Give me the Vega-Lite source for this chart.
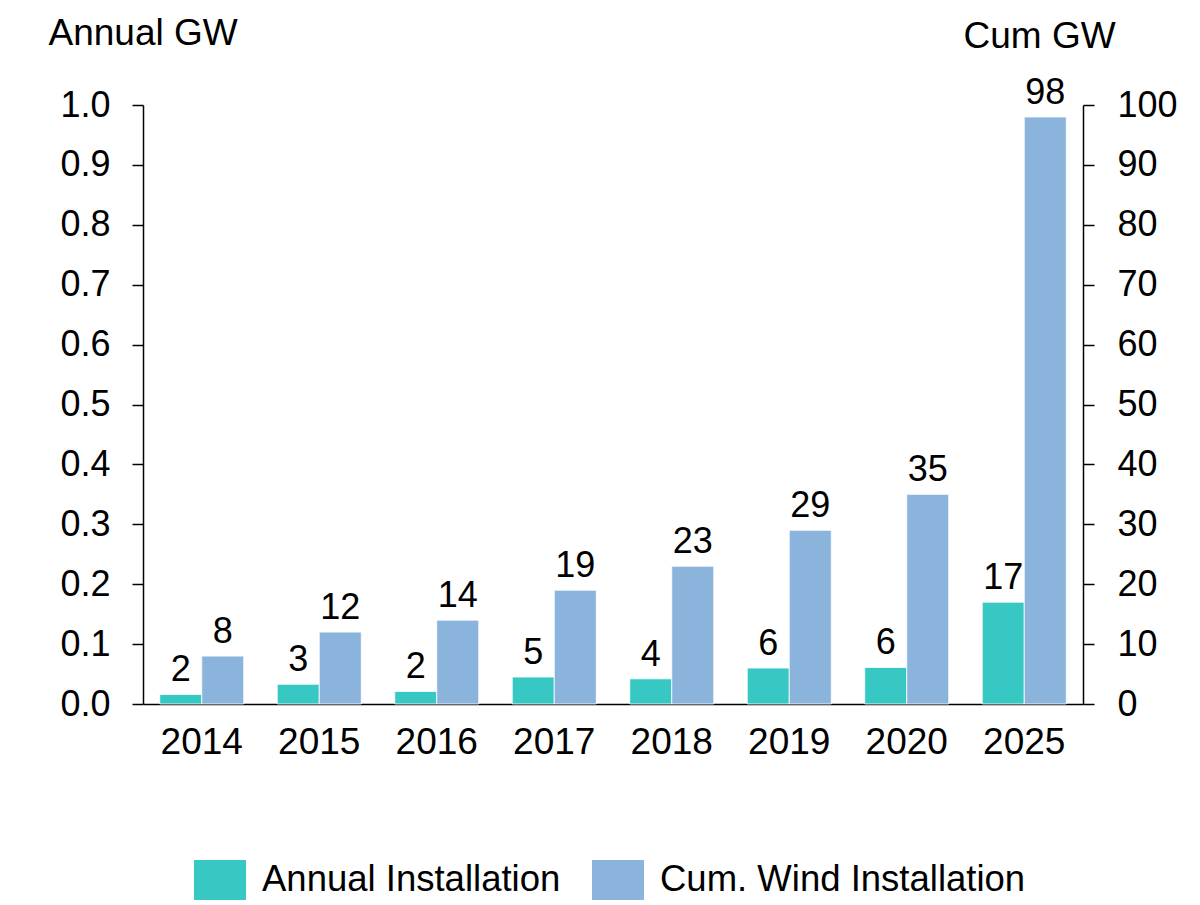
{
  "$schema": "https://vega.github.io/schema/vega-lite/v6.json",
  "autosize": "none",
  "width": 940,
  "height": 599,
  "padding": {"left": 143, "top": 105, "right": 117, "bottom": 201},
  "background": "white",
  "config": {
    "view": {"stroke": null},
    "font": "Liberation Sans",
    "axis": {"grid": false, "domainColor": "black", "tickColor": "black", "labelColor": "black", "titleColor": "black", "domainWidth": 1.5, "tickWidth": 1.5, "labelFont": "Liberation Sans", "titleFont": "Liberation Sans", "titleFontWeight": "normal"}
  },
  "data": {
    "values": [
      {"year": "2014", "series": "Annual Installation", "value": 1.6},
      {"year": "2014", "series": "Cum. Wind Installation", "value": 8},
      {"year": "2015", "series": "Annual Installation", "value": 3.3},
      {"year": "2015", "series": "Cum. Wind Installation", "value": 12},
      {"year": "2016", "series": "Annual Installation", "value": 2.1},
      {"year": "2016", "series": "Cum. Wind Installation", "value": 14},
      {"year": "2017", "series": "Annual Installation", "value": 4.5},
      {"year": "2017", "series": "Cum. Wind Installation", "value": 19},
      {"year": "2018", "series": "Annual Installation", "value": 4.2},
      {"year": "2018", "series": "Cum. Wind Installation", "value": 23},
      {"year": "2019", "series": "Annual Installation", "value": 6.0},
      {"year": "2019", "series": "Cum. Wind Installation", "value": 29},
      {"year": "2020", "series": "Annual Installation", "value": 6.1},
      {"year": "2020", "series": "Cum. Wind Installation", "value": 35},
      {"year": "2025", "series": "Annual Installation", "value": 17.0},
      {"year": "2025", "series": "Cum. Wind Installation", "value": 98}
    ]
  },
  "encoding": {
    "x": {
      "field": "year", "type": "nominal", "sort": null,
      "scale": {"paddingInner": 0.285, "paddingOuter": 0.1425},
      "axis": {"title": null, "labelAngle": 0, "ticks": false, "labelPadding": 20, "labelFontSize": 37, "domainWidth": 1.5}
    }
  },
  "layer": [
    {
      "encoding": {
        "xOffset": {"field": "series", "type": "nominal", "sort": null, "scale": {"paddingInner": 0, "paddingOuter": 0}},
        "y": {
          "field": "value", "type": "quantitative",
          "scale": {"domain": [0, 100], "nice": false, "zero": true},
          "axis": {
            "orient": "right", "title": "Cum GW", "values": [0, 10, 20, 30, 40, 50, 60, 70, 80, 90, 100],
            "format": "d", "tickSize": 11, "labelPadding": 23, "labelFontSize": 36,
            "titleAngle": 0, "titleAlign": "left", "titleBaseline": "alphabetic", "titleX": -120, "titleY": -58, "titleFontSize": 37
          }
        }
      },
      "layer": [
        {
          "mark": {"type": "bar", "stroke": "white", "strokeWidth": 1, "strokeOpacity": 0.8},
          "encoding": {
            "color": {
              "field": "series", "type": "nominal", "sort": null,
              "scale": {"domain": ["Annual Installation", "Cum. Wind Installation"], "range": ["#38C8C4", "#8AB4DC"]},
              "legend": {
                "title": null, "orient": "none", "direction": "horizontal", "legendX": 57, "legendY": 755,
                "symbolType": "M-1.3,-1H1.3V1H-1.3Z", "symbolSize": 1600, "symbolStrokeWidth": 0, "symbolOpacity": 1,
                "labelFontSize": 36.5, "labelOffset": 22, "columnPadding": 31, "labelLimit": 0, "labelColor": "black", "padding": 0
              }
            }
          }
        },
        {
          "mark": {"type": "text", "baseline": "alphabetic", "dy": -13, "fontSize": 36, "color": "black"},
          "encoding": {"text": {"field": "value", "type": "quantitative", "format": ".0f"}}
        }
      ]
    },
    {
      "mark": {"type": "point", "opacity": 0},
      "encoding": {
        "y": {
          "field": "value", "type": "quantitative",
          "scale": {"domain": [0, 1], "nice": false, "zero": true, "clamp": true},
          "axis": {
            "orient": "left", "title": "Annual GW", "values": [0, 0.1, 0.2, 0.3, 0.4, 0.5, 0.6, 0.7, 0.8, 0.9, 1.0],
            "format": ".1f", "tickSize": 11, "labelPadding": 22, "labelFontSize": 36,
            "titleAngle": 0, "titleAlign": "left", "titleBaseline": "alphabetic", "titleX": -95, "titleY": -61, "titleFontSize": 37
          }
        }
      }
    }
  ],
  "resolve": {"scale": {"y": "independent"}}
}
